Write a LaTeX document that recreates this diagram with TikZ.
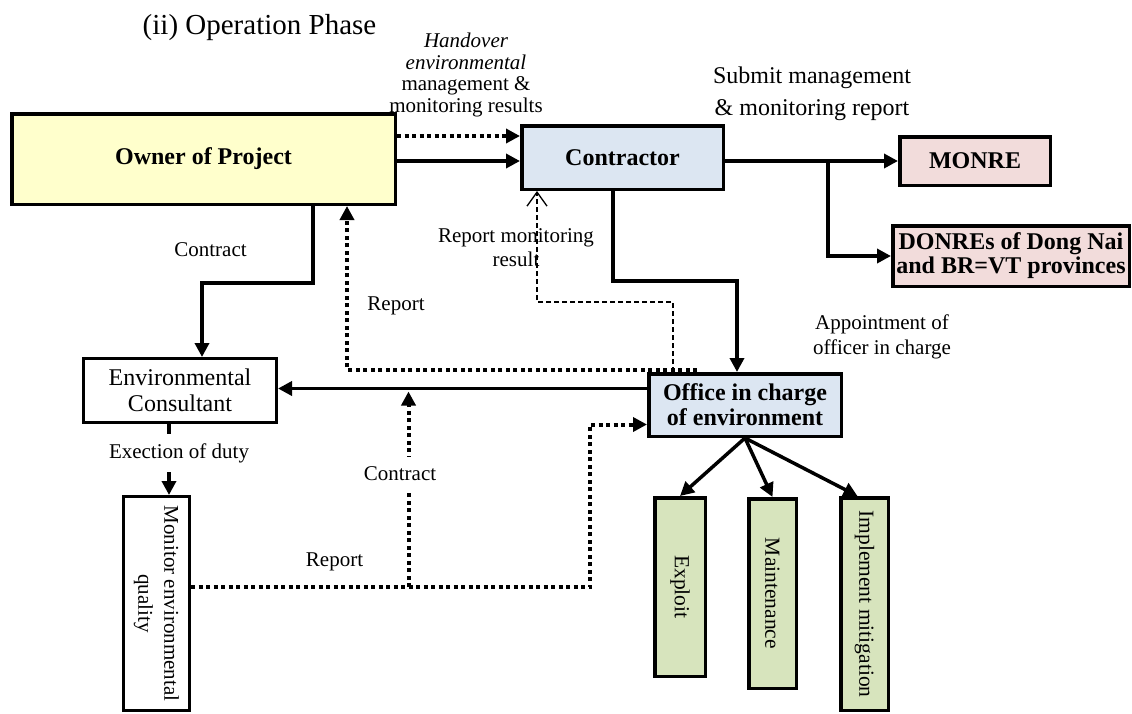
\documentclass[tikz,border=0pt]{standalone}
\usepackage{fontspec}
\setmainfont{Liberation Serif}
\usetikzlibrary{arrows.meta,calc}
\definecolor{ownerfill}{HTML}{FFFFCC}
\definecolor{bluefill}{HTML}{DCE6F2}
\definecolor{pinkfill}{HTML}{F2DCDB}
\definecolor{greenfill}{HTML}{D7E4BD}
\newcommand\setfs[2]{\fontsize{#1}{#2}\selectfont}

\begin{document}
\begin{tikzpicture}[x=1pt,y=-1pt,
  box/.style={draw=black, line width=3.5pt, inner sep=0pt, align=center,
    font=\setfs{24}{25}\bfseries},
  plainbox/.style={draw=black, line width=3pt, fill=white, inner sep=0pt,
    align=center, font=\setfs{24}{26}},
  vbox/.style={draw=black, line width=3.5pt, fill=greenfill, rotate=-90,
    inner sep=0pt, font=\setfs{21.5}{26}},
  lbl/.style={font=\setfs{21}{21.5}, inner sep=1pt, align=center},
  solidarrow/.style={line width=3.5pt, -{Triangle[length=14pt,width=14pt]}},
  dotarrow/.style={line width=4pt, dash pattern=on 4pt off 3.5pt,
    -{Triangle[length=14pt,width=14pt]}},
  dasharrow/.style={line width=1.3pt, dash pattern=on 5pt off 3pt,
    -{Straight Barb[length=14pt,width=20pt]}}
]
\path[use as bounding box, fill=white] (0,0) rectangle (1132,713);

% boxes
\node[box, fill=ownerfill, minimum width=383.5pt, minimum height=90.5pt]
  (owner) at (203.5,159) {Owner of Project};
\node[box, fill=bluefill, minimum width=201.5pt, minimum height=63.5pt]
  (contractor) at (622.5,157.5) {Contractor};
\node[box, fill=pinkfill, minimum width=150.5pt, minimum height=48.5pt]
  (monre) at (975,161) {MONRE};
\node[box, fill=pinkfill, minimum width=236.5pt, minimum height=60.5pt, font=\setfs{24}{24}\bfseries]
  (donre) at (1011,256) {DONREs of Dong Nai\\and BR=VT provinces};
\node[box, fill=bluefill, minimum width=192.5pt, minimum height=62.5pt]
  (office) at (745,405) {Office in charge\\of environment};
\node[plainbox, minimum width=193pt, minimum height=64pt]
  (env) at (180,390.5) {Environmental\\Consultant};
\node[plainbox, rotate=-90, minimum width=214pt, minimum height=66pt, font=\setfs{21}{26}]
  (monitor) at (156.5,603.5) {Monitor environmental\\quality};
\node[vbox, minimum width=178.5pt, minimum height=50.5pt] (exploit) at (680,587) {Exploit};
\node[vbox, minimum width=189.5pt, minimum height=47.5pt] (maint) at (772.5,593.5) {Maintenance};
\node[vbox, minimum width=212.5pt, minimum height=47.5pt] (impl) at (864.5,604) {Implement mitigation};

% top row: owner -> contractor -> authorities
\coordinate (rowdot) at (0,136);
\coordinate (rowsolid) at (0,161);
\draw[dotarrow] (owner.east |- rowdot) -- (contractor.west |- rowdot);
\draw[solidarrow] (owner.east |- rowsolid) -- (contractor.west |- rowsolid);
\draw[solidarrow] (contractor.east |- rowsolid) -- (monre.west |- rowsolid);
\coordinate (split) at (828,161);
\draw[solidarrow] (split) |- (donre.west);

% contractor -> office
\coordinate (cs) at ([xshift=-9.5pt]contractor.south);
\coordinate (on) at ([xshift=-8pt]office.north);
\draw[solidarrow] (cs) -- ++(0,90) -| (on);

% owner -> consultant (contract)
\coordinate (os) at ([xshift=109.5pt]owner.south);
\coordinate (en) at ([xshift=22pt]env.north);
\draw[solidarrow] (os) -- ++(0,77) -| (en);

% office -> consultant
\coordinate (ow) at ($(office.west)+(0,-16.5)$);
\draw[solidarrow] (ow) -- (env.east |- ow);

% report from office back to owner
\coordinate (ot) at ($(office.north)+(-48,-2.5)$);
\coordinate (or) at ([xshift=143.5pt]owner.south);
\draw[dotarrow] (ot) -| (or);

% monitoring result back to contractor
\coordinate (od) at ([xshift=-72pt]office.north);
\coordinate (cb) at ([xshift=-85.5pt]contractor.south);
\draw[dasharrow] (od) -- ++(0,-70) -| (cb);

% monitoring report to office
\coordinate (mr) at ($(monitor.north)+(0,-16.5)$);
\coordinate (ol) at ($(office.west)+(0,19.5)$);
\draw[dotarrow] (mr) -| ($(ol)+(-57,0)$) -- (ol);

% contract up to the office-consultant line
\coordinate (cj) at ($(mr)+(217.5,0)$);
\draw[dotarrow] (cj) -- ($(cj |- ow)+(0,3)$);

% consultant -> monitoring
\coordinate (es) at ([xshift=-11pt]env.south);
\draw[solidarrow] (es) -- (es |- monitor.west);

% office -> tasks
\draw[solidarrow] (office.south) -- (exploit.west);
\draw[solidarrow] (office.south) -- (maint.west);
\draw[solidarrow] (office.south) -- ($(impl.west)+(-7,0)$);

% labels
\node[lbl, anchor=base, font=\setfs{29}{31}] (title) at (259.5,34) {(ii) Operation Phase};
\node[lbl, anchor=north] (handover) at (466,32)
  {{\itshape Handover}\\{\itshape environmental}\\management \&\\monitoring results};
\node[lbl, anchor=north, font=\setfs{24}{32}] (submit) at (812,66)
  {Submit management\\\& monitoring report};
\node[lbl, anchor=north, font=\setfs{21}{24}] (rmr) at (516,227) {Report monitoring\\result};
\node[lbl] (contract1) at (210.5,250) {Contract};
\node[lbl] (report1) at (396,306) {Report};
\node[lbl, anchor=north, font=\setfs{21}{25}] (appoint) at (882,314)
  {Appointment of\\officer in charge};
\node[lbl, fill=white, inner ysep=9pt] (duty) at (179,453) {Exection of duty};
\node[lbl, fill=white, inner ysep=10pt] (contract2) at (400,474) {Contract};
\node[lbl] (report2) at (334.5,562) {Report};
\end{tikzpicture}
\end{document}
